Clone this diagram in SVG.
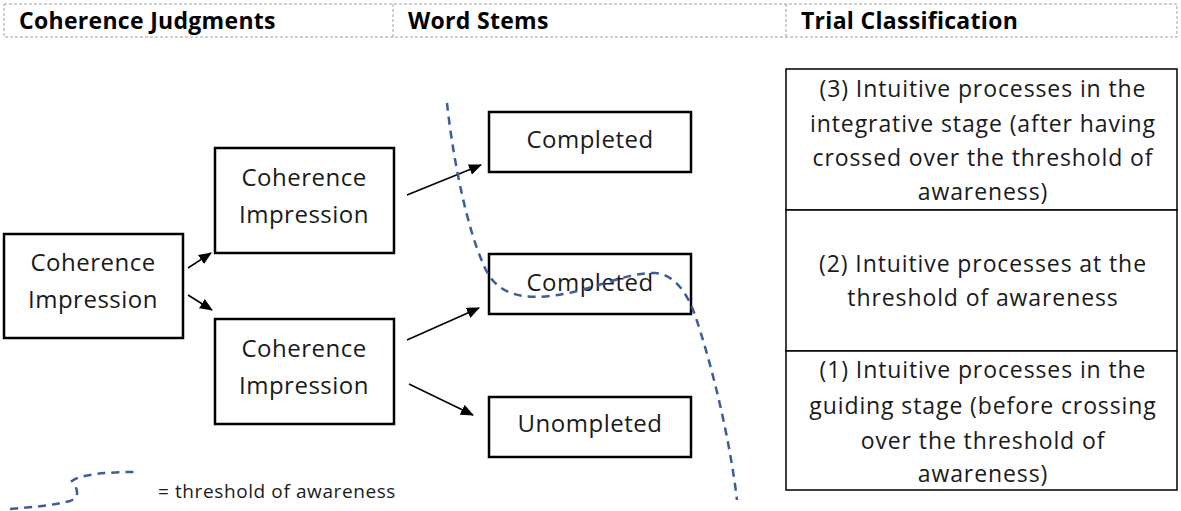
<svg xmlns="http://www.w3.org/2000/svg" width="1181" height="511" viewBox="0 0 1181 511">
<style>
  text { font-family: "Open Sans", "Liberation Sans", sans-serif; fill: #1a1a1a; }
  .hdr { font-weight: bold; font-size: 23px; letter-spacing: 0.3px; fill: #000; }
  .lbl { font-size: 24px; letter-spacing: 0.5px; text-anchor: middle; }
  .tbl { font-size: 23px; letter-spacing: 0.9px; text-anchor: middle; }
  .box { fill: #fff; stroke: #000; stroke-width: 2.5; }
  .cell { fill: #fff; stroke: #000; stroke-width: 1.5; }
  .hline { fill: none; stroke: #a0a0a0; stroke-width: 1; stroke-dasharray: 3 2; }
  .conn { stroke: #000; stroke-width: 1.5; fill: none; marker-end: url(#arr); }
  .thr { fill: none; stroke: #3a5d9c; stroke-width: 2.5; stroke-dasharray: 8 6; }
</style>
<defs>
  <marker id="arr" markerWidth="13" markerHeight="11" refX="12" refY="5.5" orient="auto" markerUnits="userSpaceOnUse" viewBox="0 0 13 11">
    <path d="M0,0 L13,5.5 L0,11 Z" fill="#000"/>
  </marker>
</defs>
<rect width="1181" height="511" fill="#fff"/>

<g id="header">
  <rect class="hline" x="4" y="4" width="1173" height="33"/>
  <line class="hline" x1="393" y1="4" x2="393" y2="37"/>
  <line class="hline" x1="786" y1="4" x2="786" y2="37"/>
  <text class="hdr" x="19" y="29">Coherence Judgments</text>
  <text class="hdr" x="408" y="29">Word Stems</text>
  <text class="hdr" x="801" y="29">Trial Classification</text>
</g>

<g id="n-left">
  <rect class="box" x="4" y="234" width="179" height="104"/>
  <text class="lbl" x="93" y="271">Coherence</text>
  <text class="lbl" x="93" y="308">Impression</text>
</g>
<g id="n-mid-top">
  <rect class="box" x="215" y="148" width="179" height="105"/>
  <text class="lbl" x="304" y="186">Coherence</text>
  <text class="lbl" x="304" y="223">Impression</text>
</g>
<g id="n-mid-bot">
  <rect class="box" x="215" y="319" width="179" height="105"/>
  <text class="lbl" x="304" y="357">Coherence</text>
  <text class="lbl" x="304" y="394">Impression</text>
</g>
<g id="n-comp1">
  <rect class="box" x="489" y="112" width="202" height="60"/>
  <text class="lbl" x="590" y="148">Completed</text>
</g>
<g id="n-comp2">
  <rect class="box" x="489" y="254" width="202" height="60"/>
  <text class="lbl" x="590" y="291">Completed</text>
</g>
<g id="n-uncomp">
  <rect class="box" x="489" y="397" width="202" height="60"/>
  <text class="lbl" x="590" y="432">Unompleted</text>
</g>

<g id="n-table">
  <rect class="cell" x="786" y="69" width="391" height="141"/>
  <rect class="cell" x="786" y="210" width="391" height="141"/>
  <rect class="cell" x="786" y="351" width="391" height="139"/>
  <text class="tbl" x="983" y="97">(3) Intuitive processes in the</text>
  <text class="tbl" x="983" y="132">integrative stage (after having</text>
  <text class="tbl" x="983" y="166">crossed over the threshold of</text>
  <text class="tbl" x="983" y="200">awareness)</text>
  <text class="tbl" x="983" y="272">(2) Intuitive processes at the</text>
  <text class="tbl" x="983" y="306">threshold of awareness</text>
  <text class="tbl" x="983" y="378">(1) Intuitive processes in the</text>
  <text class="tbl" x="983" y="414">guiding stage (before crossing</text>
  <text class="tbl" x="983" y="449">over the threshold of</text>
  <text class="tbl" x="983" y="482">awareness)</text>
</g>

<g id="connectors">
  <line class="conn" x1="188" y1="268" x2="211" y2="253"/>
  <line class="conn" x1="188" y1="295" x2="212" y2="310"/>
  <line class="conn" x1="407" y1="195" x2="481" y2="165"/>
  <line class="conn" x1="407" y1="340" x2="479" y2="308"/>
  <line class="conn" x1="409" y1="384" x2="473" y2="415"/>
</g>

<g id="threshold">
  <path class="thr" d="M447,103 C452,150 465,225 485,268 C495,290 515,300 550,296 C590,292 625,272 655,273 C675,274 688,295 695,315 C712,365 730,440 737,500"/>
</g>

<g id="legend">
  <path class="thr" d="M10,509 C35,507 55,505 70,501 C82,497 76,486 72,481 C80,474 110,472 136,472"/>
  <text x="158" y="498" style="font-size:19px;letter-spacing:0.6px">= threshold of awareness</text>
</g>
</svg>
